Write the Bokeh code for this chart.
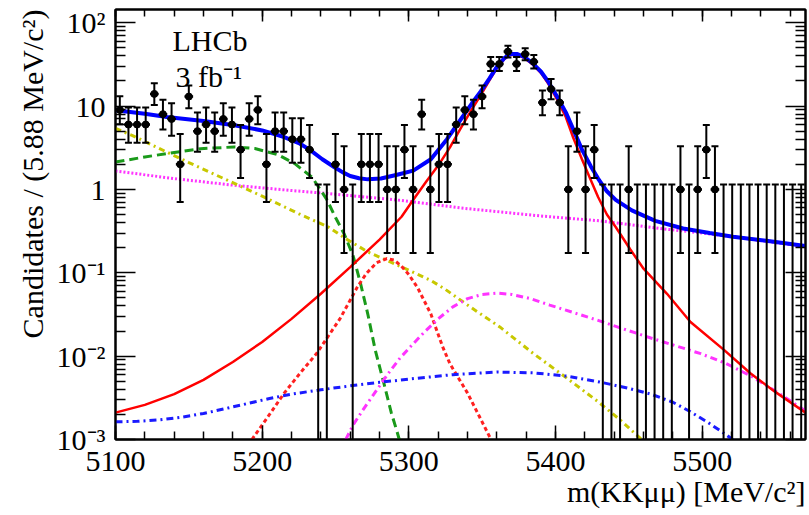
import math
from bokeh.plotting import figure
from bokeh.models import (FixedTicker, LogAxis, LinearAxis, Label, CustomJSTickFormatter,
                          Range1d, Title)
from bokeh.embed import file_html
from bokeh.resources import INLINE

# ---------------- data ----------------
mass_min = 5100.0
bin_width = 5.88
counts = [9, 6, 6, 6, 14, 8, 7, 2, 13, 5,
          6, 5, 7, 6, 3, 7, 9, 2, 5, 5,
          4, 4, 3, 0, 0, 2, 1, 0, 2, 2,
          2, 1, 1, 3, 1, 8, 1, 2, 2, 6,
          9, 8, 13, 32, 32, 45, 32, 42, 34, 11,
          16, 11, 1, 5, 1, 3, 0, 0, 0, 1,
          0, 0, 0, 0, 0, 1, 0, 1, 3, 1,
          0, 0, 0, 0, 0, 0, 0, 0, 0, 0]

# total fit (blue solid)
tot_x = [5100, 5120, 5135, 5160, 5181, 5200, 5215, 5225, 5233, 5241, 5249, 5255, 5260, 5266,
         5272, 5281, 5292, 5303, 5315, 5326, 5337, 5343, 5349, 5355, 5360, 5365, 5369, 5374,
         5379, 5384, 5390, 5395, 5401, 5407, 5412, 5418, 5424, 5429, 5435, 5441, 5452, 5468,
         5487, 5505, 5521, 5545, 5570.4]
tot_y = [8.9, 8.1, 7.4, 6.6, 5.9, 5.1, 4.25, 3.6, 2.94, 2.3, 1.86, 1.6, 1.45, 1.36,
         1.32, 1.35, 1.5, 1.68, 2.3, 4.0, 7.6, 10.8, 15.0, 21.5, 29.5, 37.5, 42, 42,
         38.5, 33, 26, 19.6, 13, 8.4, 5.3, 3.0, 1.9, 1.35, 0.95, 0.75, 0.56, 0.42,
         0.34, 0.30, 0.27, 0.24, 0.21]

# signal (red solid)
sig_x = [5100, 5120, 5140, 5160, 5180, 5200, 5220, 5240, 5260, 5280, 5295, 5303, 5312, 5321,
         5328, 5335, 5342, 5349, 5355, 5360, 5365, 5369, 5374, 5379, 5384, 5390, 5395, 5401,
         5407, 5412, 5418, 5424, 5429, 5435, 5441, 5451, 5460, 5476, 5492, 5515, 5533, 5550,
         5570.4]
sig_y = [2.1e-3, 2.6e-3, 3.5e-3, 5.2e-3, 8.5e-3, 0.0148, 0.028, 0.056, 0.117, 0.25, 0.47, 0.75,
         1.25, 2.05, 3.2, 5.3, 8.6, 13.5, 20.5, 28.5, 36.5, 41, 41, 37.5, 32, 25, 18.6, 12,
         7.4, 4.2, 2.3, 1.3, 0.81, 0.5, 0.354, 0.19, 0.112, 0.056, 0.0257, 0.0118, 0.0062,
         0.0037, 0.0021]

# combinatorial (magenta dotted)
comb_x = [5100, 5140, 5181, 5220, 5246, 5294, 5335, 5390, 5430, 5471, 5500, 5535, 5570.4]
comb_y = [1.66, 1.35, 1.12, 0.97, 0.89, 0.74, 0.60, 0.48, 0.42, 0.34, 0.30, 0.25, 0.205]

# partially reconstructed (green dashed)
part_x = [5100, 5120, 5135, 5158, 5181, 5195, 5211, 5222, 5234, 5244, 5250, 5256, 5262, 5267,
          5272, 5277, 5283, 5288, 5292, 5296]
part_y = [2.13, 2.45, 2.69, 3.08, 3.23, 3.1, 2.6, 2.05, 1.4, 0.76, 0.46, 0.29, 0.16, 0.075,
          0.032, 0.012, 0.0047, 0.0021, 0.00123, 0.0007]

# olive dash-dot component
olv_x = [5100, 5112, 5125, 5150, 5175, 5200, 5225, 5245, 5258, 5272, 5285, 5300, 5315, 5325,
         5340, 5362, 5385, 5408, 5430, 5445, 5453, 5460]
olv_y = [5.4, 4.4, 3.4, 2.1, 1.32, 0.83, 0.51, 0.355, 0.25, 0.178, 0.141, 0.107, 0.081, 0.063,
         0.041, 0.0224, 0.0107, 0.0054, 0.00275, 0.00166, 0.00123, 0.00095]

# red dashed peaking component
pk_x = [5193, 5205, 5215, 5226, 5237, 5253, 5265, 5271, 5278, 5285, 5290, 5295, 5300, 5306,
        5315, 5323, 5328, 5334, 5340, 5348, 5356]
pk_y = [1e-3, 2.0e-3, 3.6e-3, 6.3e-3, 0.0107, 0.028, 0.068, 0.098, 0.132, 0.148, 0.142, 0.12,
        0.095, 0.066, 0.032, 0.013, 0.0081, 0.0054, 0.0036, 0.0019, 0.001]

# magenta dash-dot component
md_x = [5257, 5262, 5270, 5278, 5286, 5294, 5302, 5310, 5320, 5330, 5340, 5350, 5360, 5370,
        5383, 5396, 5413, 5430, 5447, 5465, 5482, 5499, 5516, 5533, 5551, 5570.4]
md_y = [1e-3, 1.5e-3, 2.45e-3, 3.9e-3, 6.2e-3, 9.5e-3, 0.0135, 0.019, 0.028, 0.039, 0.049,
        0.055, 0.057, 0.055, 0.049, 0.041, 0.033, 0.0265, 0.021, 0.0165, 0.0133, 0.0107,
        0.0082, 0.0058, 0.0037, 0.0022]

# blue dash-dot component
bd_x = [5100, 5115, 5130, 5145, 5160, 5175, 5190, 5205, 5220, 5240, 5260, 5280, 5300, 5330,
        5360, 5385, 5408, 5430, 5450, 5465, 5480, 5492, 5504, 5516, 5524]
bd_y = [1.63e-3, 1.65e-3, 1.72e-3, 1.85e-3, 2.05e-3, 2.35e-3, 2.7e-3, 3.1e-3, 3.5e-3, 3.95e-3,
        4.4e-3, 4.85e-3, 5.3e-3, 6.0e-3, 6.45e-3, 6.3e-3, 5.75e-3, 4.9e-3, 4.1e-3, 3.5e-3,
        2.8e-3, 2.15e-3, 1.6e-3, 1.15e-3, 0.9e-3]

x_major = [5100, 5200, 5300, 5400, 5500]
x_minor = [5100 + 20 * i for i in range(24)]
y_major = [1e-3, 1e-2, 1e-1, 1, 10, 100]
y_minor = [m * 10.0 ** e for e in range(-3, 2) for m in range(2, 10)]

# ---------------- Poisson intervals ----------------
ALPHA = 0.5 * (1 - 0.682689)


def pcdf(n, mu):
    s, t = 0.0, math.exp(-mu)
    for k in range(n + 1):
        s += t
        t *= mu / (k + 1)
    return s


def bisect(f, a, b):
    fa = f(a)
    for _ in range(100):
        m = 0.5 * (a + b)
        fm = f(m)
        if (fm > 0) == (fa > 0):
            a, fa = m, fm
        else:
            b = m
    return 0.5 * (a + b)


centers, lo, hi, ctr_v, lo_v, x0, x1, cnt_v = [], [], [], [], [], [], [], []
for i, n in enumerate(counts):
    c = mass_min + (i + 0.5) * bin_width
    if n == 0:
        up = -math.log(1 - 0.682689)
        dn = 1e-5
    else:
        up = bisect(lambda mu: pcdf(n, mu) - ALPHA, n, n + 10 * math.sqrt(n) + 10)
        dn = bisect(lambda mu: (1 - pcdf(n - 1, mu)) - ALPHA, 0.0, n + 1.0)
        ctr_v.append(c)
        cnt_v.append(n)
        x0.append(c - bin_width / 2)
        x1.append(c + bin_width / 2)
        lo_v.append(dn)
    centers.append(c)
    lo.append(dn)
    hi.append(up)

# ---------------- figure ----------------
FONT = "Liberation Serif"
p = figure(width=809, height=515, x_range=Range1d(5100, 5570.4), y_range=Range1d(1e-3, 144),
           y_axis_type="log", output_backend="svg", toolbar_location=None,
           min_border_left=115, min_border_right=4, min_border_top=9, min_border_bottom=76)
p.xgrid.visible = False
p.ygrid.visible = False
p.outline_line_color = "black"
p.outline_line_width = 2

xt = FixedTicker(ticks=x_major, minor_ticks=x_minor)
yt = FixedTicker(ticks=y_major, minor_ticks=y_minor)
yfmt = CustomJSTickFormatter(code="""
const e = Math.round(Math.log10(tick));
if (e == 0) return '1';
if (e == 1) return '10';
const sup = {'-':'\u207b','0':'\u2070','1':'\u00b9','2':'\u00b2','3':'\u00b3'};
return '10' + String(e).split('').map(c => sup[c]).join('');
""")
blank = CustomJSTickFormatter(code="return '';")


def style(ax, maj, mnr):
    ax.axis_line_width = 2
    ax.axis_line_color = "black"
    ax.major_tick_in = maj
    ax.major_tick_out = 0
    ax.minor_tick_in = mnr
    ax.minor_tick_out = 0
    ax.major_tick_line_width = 1.5
    ax.minor_tick_line_width = 1.5
    ax.major_label_text_font = FONT
    ax.major_label_text_font_size = "30px"
    ax.major_label_text_color = "black"


xa = p.xaxis[0]
xa.ticker = xt
style(xa, 14, 8)
xa.major_label_standoff = 12

ya = p.yaxis[0]
ya.ticker = yt
ya.formatter = yfmt
style(ya, 20, 10)
ya.major_label_standoff = 10

top = LinearAxis(ticker=xt, formatter=blank)
style(top, 12, 7)
top.major_label_standoff = 0
top.major_label_text_font_size = "0px"
p.add_layout(top, "above")

right = LogAxis(ticker=yt, formatter=blank)
style(right, 20, 10)
right.major_label_standoff = 0
right.major_label_text_font_size = "0px"
p.add_layout(right, "right")

# axis titles (ROOT style: aligned to the far end of each axis)
xtitle = Title(text="m(KK\u03bc\u03bc) [MeV/c\u00b2]", align="right", text_font=FONT,
               text_font_size="30px", text_font_style="normal", text_color="black")
xtitle.standoff = -1
p.add_layout(xtitle, "below")

ytitle = Title(text="Candidates / (5.88 MeV/c\u00b2)", align="right", text_font=FONT,
               text_font_size="30px", text_font_style="normal", text_color="black",
               vertical_align="top")
ytitle.standoff = 6
p.add_layout(ytitle, "left")

# ---------------- curves ----------------
p.line(comb_x, comb_y, line_color="#ff33ff", line_width=3, line_dash="2 2")
p.line(part_x, part_y, line_color="#1a9a1a", line_width=3, line_dash="9 5")
p.line(olv_x, olv_y, line_color="#c8c800", line_width=3, line_dash="6 4 2 4")
p.line(pk_x, pk_y, line_color="#ff2020", line_width=3, line_dash="4 3")
p.line(md_x, md_y, line_color="#ff33ff", line_width=3, line_dash="7 4 2 4")
p.line(bd_x, bd_y, line_color="#1a1aff", line_width=3, line_dash="7 4 2 4")
p.line(sig_x, sig_y, line_color="#ff0000", line_width=2.5)
p.line(tot_x, tot_y, line_color="#0000ff", line_width=4)

# ---------------- data ----------------
p.segment(x0=centers, y0=lo, x1=centers, y1=hi, line_color="black", line_width=2)
p.dash(x=centers, y=hi, size=7, line_color="black", line_width=2)
p.dash(x=ctr_v, y=lo_v, size=7, line_color="black", line_width=2)
p.segment(x0=x0, y0=cnt_v, x1=x1, y1=cnt_v, line_color="black", line_width=2.5)
p.scatter(x=ctr_v, y=cnt_v, size=7, fill_color="black", line_color="black")

# ---------------- texts ----------------
p.add_layout(Label(x=5138.8, y=60.5, text="LHCb", text_font=FONT, text_font_size="30px",
                   text_baseline="middle", text_color="black"))
p.add_layout(Label(x=5140.9, y=22.7, text="3 fb\u207b\u00b9", text_font=FONT,
                   text_font_size="30px", text_baseline="middle", text_color="black"))

open("out.html", "w").write(file_html(p, INLINE))
